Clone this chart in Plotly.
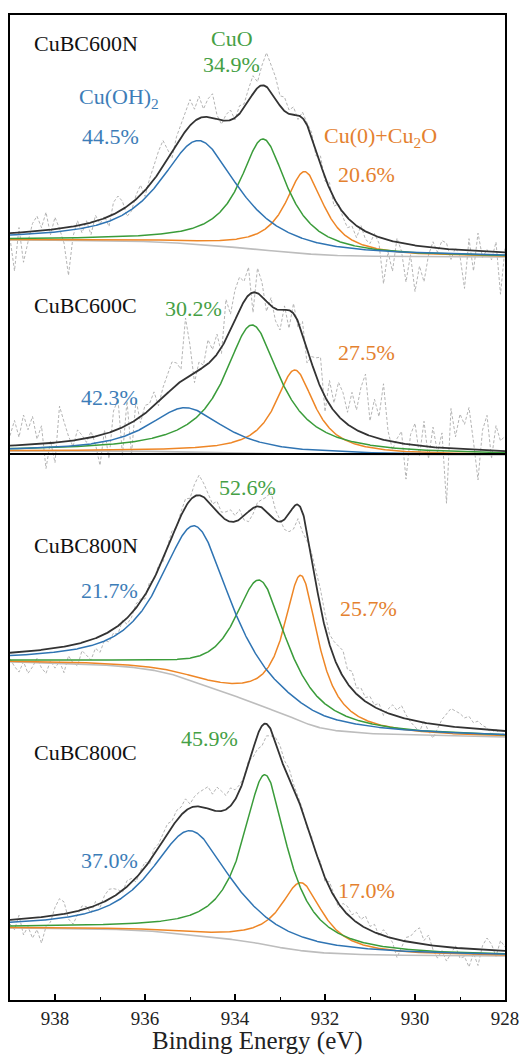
import numpy as np
import plotly.graph_objects as go

# ---------------------------------------------------------------------------
# Cu 2p3/2 fits for four samples (Binding Energy in eV, intensity in a.u.).
# Each component: centre (eV), height above background, FWHM (eV).
# Order of components: Cu(OH)2, CuO, Cu(0)+Cu2O
# ---------------------------------------------------------------------------
samples = ["CuBC600N", "CuBC600C", "CuBC800N", "CuBC800C"]
component_names = ["Cu(OH)<sub>2</sub>", "CuO", "Cu(0)+Cu<sub>2</sub>O"]
lorentz_fraction = [0.85, 1.0, 0.95]

center_600N = [934.80, 933.37, 932.45]
height_600N = [104, 111, 82]
fwhm_600N = [2.05, 1.28, 1.05]

center_600C = [935.10, 933.62, 932.67]
height_600C = [44, 128, 84]
fwhm_600C = [2.00, 1.50, 1.05]

center_800N = [934.87, 933.44, 932.53]
height_800N = [156, 125, 146]
fwhm_800N = [1.87, 1.44, 0.93]

center_800C = [934.98, 933.33, 932.53]
height_800C = [104, 170, 68]
fwhm_800C = [2.10, 1.20, 1.15]

# Shirley background levels (high-BE end, low-BE end); spectra are stacked
bg_high = [760, 549, 338, 72]
bg_low = [743, 545, 263, 44]

# Relative contents (%) of Cu(OH)2, CuO, Cu(0)+Cu2O
pct_600N = [44.5, 34.9, 20.6]
pct_600C = [42.3, 30.2, 27.5]
pct_800N = [21.7, 52.6, 25.7]
pct_800C = [37.0, 45.9, 17.0]

# Raw-data deviation from the fitted envelope, 939.0 -> 928.0 eV in 0.1 eV steps
raw_step = 0.1
resid_600N = [
    -5, -38, 5, -30, -10, 8, 15, 3, 18, -5, 12, 0, -15, -48, -10,
    5, -8, 3, -12, 6, -4, 2, -10, 12, 16, 8, -10, -8, 4, 10, -6,
    6, 14, 22, 26, 10, -6, 8, 14, 20, 26, 12, 22, 8, 18, 24, 4,
    -4, 6, 10, -2, 8, 4, 12, 18, 6, 20, 34, 28, 22, 10, 14, 4,
    8, -4, 6, 2, 4, -6, 8, -4, 6, -8, 2, -5, -10, -4, -12, 3, -8, -10, 2, -6,
    -45, -12, -30, 4, -8, -38, -10, -46, -20, -35, -8, 6,
    -4, 8, 6, -10, 2, -6, -38, 12, -20, 18, -6, 2, -8, 10, -42, 4,
]
resid_600C = [
    10, 25, 8, 30, 15, 28, 5, 18, -25, 2, -20, 36, 20, 5, -6, 10, 4, -4,
    6, -8, -30, 4, -26, 20, 30, -28, 24, -32, 20, -6, 8, 6, 14, -4, 10,
    18, 27, 22, 12, 60, 30, -10, 8, 2, 24, 10, 20, -6, 40, 16, 30,
    33, 20, 28, -20, 25, 14, -10, 8, -12, -20, 4, -18, 10, -6, 12, -15, 6, 18,
    30, -15, 24, 8, 34, 28, 12, 35, 20, 45, 60, 15, 38, 22, 56, 10, -8,
    4, 12, -35, 10, 22, -10, 25, -12, 20, -5, 15,
    -55, 40, 12, 35, 25, 42, 8, -30, 20, 35, -8, 25, 10, 15,
]
resid_800N = [
    -6, -14, -20, -10, -22, -16, -8, -18, -24, -12, -20, -14, -26, -10, -18,
    -22, -8, -14, -20, -10, -16, -6, -10, -4, -8, 2, -6, -4, 4,
    3, -4, 5, -2, 4, -3, 2, 6, -2, 4, 8, 2, 12, 20, 14, 8, 2,
    10, 4, 8, 12, 6, 10, -4, -10, -6, 4, 8, 14, 24, 10,
    2, -10, -18, -22, -14, -20, -10, 4, 12, 18, 14,
    10, 16, 22, 26, 14, 18, 6, 10, 4, 8, 2, 6, -4, 4, 10, 6, 12, 4, -2,
    -6, -10, 2, -8, -14, -4, 6, 12, 18, 16, 14, 10, 12, 6, 8, 4, 2,
    -4, 2, -6, 0,
]
resid_800C = [
    -4, -10, 4, -16, -8, -20, -12, -26, -10, -6, 8, 16, 12, -6, -12, -4, 4,
    2, -6, 4, -4, 6, 10, 8, 4, -2, 6, 4, -4, 2, 5, -3, 6, 4, 8, 10,
    6, 10, 8, 12, 4, 10, 14, 18, 22, 16, 24, 20, 14, 18, 10, 6, 2, 4,
    -8, -14, -20, -12, -6, 4, 10, 8, 12, 6, 4, 2, -4,
    2, -2, 4, -4, 6, 2, -4, 6, 8, 4, 10, 6, 12, 4, 8, -2, 6, 2, -4,
    -18, -6, 4, 6, 12, 16, 4, 10, -4, -12, -4, -14, -6, 2, -10,
    -8, -18, -4, -16, 4, 12, 6, -6, 10, 4,
]

x_ticks = [938, 936, 934, 932, 930, 928]

# ---------------------------------------------------------------------------
centers = [center_600N, center_600C, center_800N, center_800C]
heights = [height_600N, height_600C, height_800N, height_800C]
fwhms = [fwhm_600N, fwhm_600C, fwhm_800N, fwhm_800C]
percents = [pct_600N, pct_600C, pct_800N, pct_800C]
resids = [resid_600N, resid_600C, resid_800N, resid_800C]

E_LO, E_HI = 928.0, 939.0
energy = np.linspace(E_LO, E_HI, 1101)
raw_energy = E_HI - raw_step * np.arange(len(resid_600N))

COL_BLUE = "#2f74b3"
COL_GREEN = "#3a9c3a"
COL_ORANGE = "#ee8626"
COL_TEXT_BLUE = "#3d7db8"
COL_TEXT_GREEN = "#45a045"
COL_TEXT_ORANGE = "#e4812f"
COMP_COLORS = [COL_BLUE, COL_GREEN, COL_ORANGE]
SERIF = "Liberation Serif"


def pseudo_voigt(e, c, h, w, eta):
    d = (2.0 * (e - c) / w) ** 2
    return h * (eta / (1.0 + d) + (1.0 - eta) * np.exp(-np.log(2.0) * d))


def shirley(total, high, low):
    cum = np.concatenate([[0.0], np.cumsum(0.5 * (total[1:] + total[:-1]) * np.diff(energy))])
    return low + (high - low) * cum / cum[-1]


fig = go.Figure()

for k, name in enumerate(samples):
    comps = [pseudo_voigt(energy, c, h, w, eta)
             for c, h, w, eta in zip(centers[k], heights[k], fwhms[k], lorentz_fraction)]
    total = np.sum(comps, axis=0)
    bg = shirley(total, bg_high[k], bg_low[k])
    envelope = bg + total
    raw = np.interp(raw_energy, energy, envelope) + np.array(resids[k])

    fig.add_trace(go.Scatter(x=raw_energy, y=raw, mode="lines",
                             line=dict(color="#ababab", width=0.9, dash="3px,2px"),
                             hoverinfo="skip", showlegend=False))
    fig.add_trace(go.Scatter(x=energy, y=bg, mode="lines",
                             line=dict(color="#bdbdbd", width=1.6),
                             hoverinfo="skip", showlegend=False))
    for j in (2, 1, 0):
        fig.add_trace(go.Scatter(x=energy, y=bg + comps[j], mode="lines",
                                 line=dict(color=COMP_COLORS[j], width=1.5),
                                 name=component_names[j], showlegend=False))
    fig.add_trace(go.Scatter(x=energy, y=envelope, mode="lines",
                             line=dict(color="#333333", width=1.8),
                             name=name, showlegend=False))

# ---------------------------------------------------------------------------
# Text labels
annotations = []


def label(text, x, y, color, anchor="center"):
    annotations.append(dict(text=text, x=x, y=y, xref="x", yref="y",
                            xanchor=anchor, yanchor="middle", showarrow=False,
                            font=dict(family=SERIF, size=22, color=color)))


name_y = [957, 695, 455, 248]
for k, name in enumerate(samples):
    label(name, 938.51, name_y[k], "#111111", anchor="left")

pct_pos = [
    [(936.76, 864), (934.07, 936), (931.07, 826)],
    [(936.78, 603), (934.93, 692), (931.07, 648)],
    [(936.78, 410), (933.73, 513), (931.04, 392)],
    [(936.78, 140), (934.56, 262), (931.07, 110)],
]
text_cols = [COL_TEXT_BLUE, COL_TEXT_GREEN, COL_TEXT_ORANGE]
for k in range(4):
    for j in range(3):
        x, y = pct_pos[k][j]
        label(f"{percents[k][j]:.1f}%", x, y, text_cols[j])

# component names in the first panel
label(component_names[0], 936.58, 902, COL_TEXT_BLUE)
label(component_names[1], 934.07, 962, COL_TEXT_GREEN)
label(component_names[2], 930.76, 863, COL_TEXT_ORANGE)

annotations.append(dict(text="Binding Energy (eV)", x=0.5, y=-0.042,
                        xref="paper", yref="paper", xanchor="center",
                        yanchor="middle", showarrow=False,
                        font=dict(family=SERIF, size=25, color="#222222")))

fig.update_layout(
    width=531, height=1057,
    margin=dict(l=10, r=26, t=15, b=57),
    paper_bgcolor="white", plot_bgcolor="white",
    annotations=annotations,
    shapes=[dict(type="line", xref="paper", x0=0, x1=1, yref="y", y0=546, y1=546,
                 line=dict(color="black", width=2))],
    xaxis=dict(range=[E_HI, E_LO], tickmode="array", tickvals=x_ticks,
               ticktext=[str(t) for t in x_ticks],
               ticks="inside", ticklen=6, tickwidth=1.5, tickcolor="black",
               minor=dict(dtick=1, ticks="inside", ticklen=3, tickwidth=1.2,
                          tickcolor="black", showgrid=False),
               showline=True, linecolor="black", linewidth=2, mirror=True,
               showgrid=False, zeroline=False,
               tickfont=dict(family=SERIF, size=19, color="#222222")),
    yaxis=dict(range=[0, 985], showticklabels=False, ticks="",
               showline=True, linecolor="black", linewidth=2, mirror=True,
               showgrid=False, zeroline=False),
)

fig.write_html("out.html")
